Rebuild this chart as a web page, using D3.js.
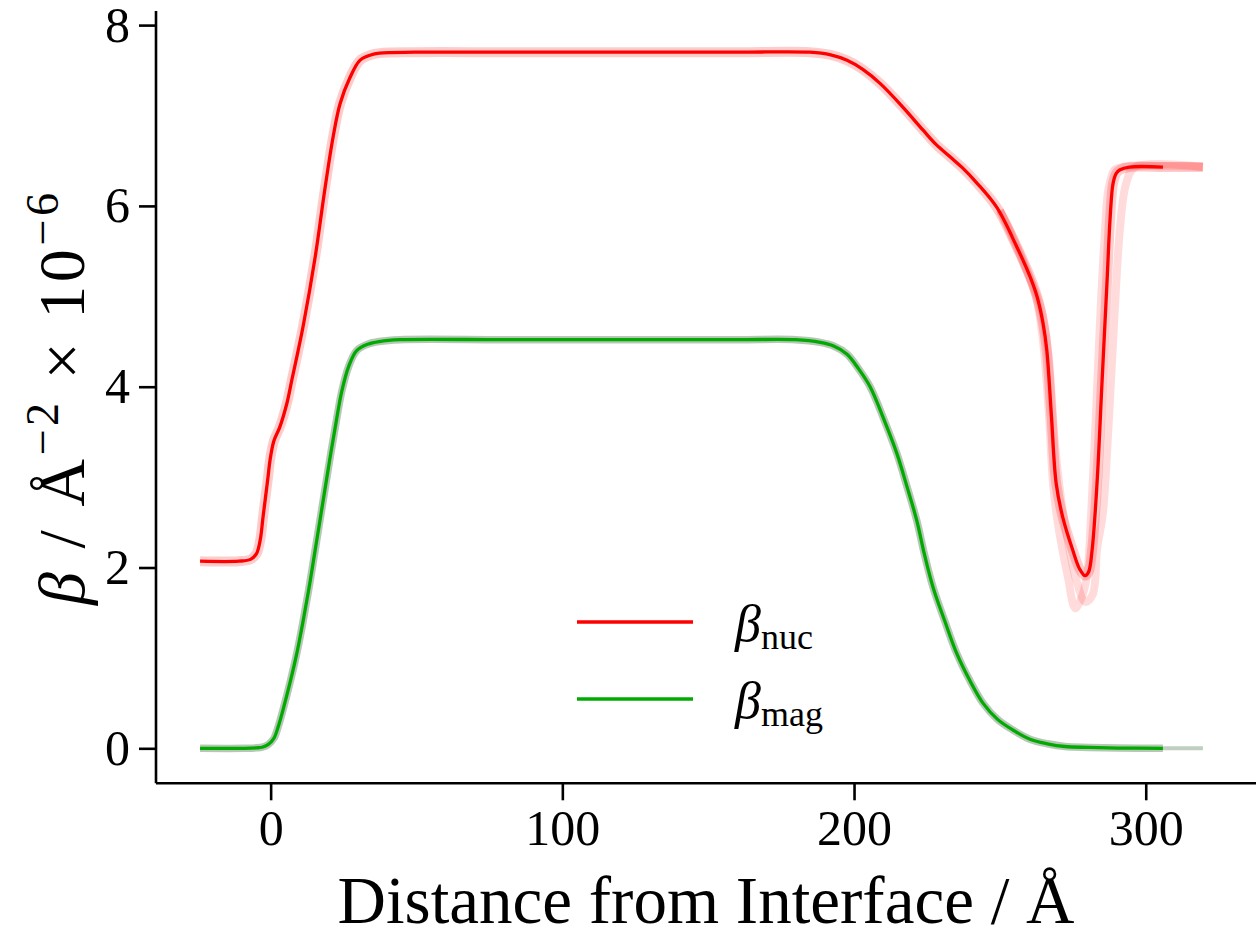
<!DOCTYPE html>
<html>
<head>
<meta charset="utf-8">
<script src="https://cdn.jsdelivr.net/npm/d3@7"></script>
<style>
html,body{margin:0;padding:0;background:#fff;}
svg{display:block;}
text{font-family:"Liberation Serif","DejaVu Serif",serif;fill:#000;}
</style>
</head>
<body>
<svg id="chart" width="1258" height="943"></svg>
<script>
// ---------------- data ----------------
const nucX = [-24.2,-10.9,-6.9,-4.9,-3.6,-2.6,-0.9,-0.2,1.1,3.1,5.6,7.3,9.3,11.2,15.2,18.7,21.4,23.8,27.2,30.6,34.3,37.3,49.3,
  80,120,160,184.9,192.0,197.6,203.0,209.1,216.8,223.6,228.1,233.0,237.2,242.2,249.0,255.9,260.3,262.8,264.8,266.1,267.7,269.3,271.6,
  275.0,277.4,279.2,280.4,281.6,283.3,285.0,286.7,287.8,288.8,289.9,291.2,294.4,305.9,319.6];
const nucY = [2.07,2.07,2.09,2.15,2.30,2.56,3.00,3.19,3.40,3.55,3.82,4.08,4.38,4.68,5.42,6.21,6.76,7.13,7.42,7.61,7.67,7.69,7.70,
  7.70,7.70,7.70,7.70,7.67,7.61,7.51,7.35,7.09,6.84,6.68,6.54,6.42,6.25,5.98,5.54,5.22,4.99,4.70,4.40,3.66,2.93,2.55,
  2.19,1.98,1.91,1.95,2.19,2.93,4.04,5.14,5.87,6.25,6.36,6.40,6.43,6.43,6.43];

const magX = [-24.2,-8.9,-4.9,-2.9,-0.9,1.1,2.6,4.2,6.6,9.1,11.2,13.5,15.7,18.0,20.2,22.4,24.4,26.7,29.5,33.3,37.3,44.3,
  80,120,160,179.9,188.4,193.0,197.6,201.5,205.5,210.1,214.7,218.1,221.5,224.1,227.1,231.2,235.2,239.7,244.2,249.2,254.6,260.3,266.3,
  272.3,280.4,290.4,305.9,319.6];
const magY = [0,0,0.005,0.012,0.04,0.11,0.24,0.42,0.72,1.07,1.42,1.84,2.28,2.74,3.18,3.60,3.95,4.22,4.40,4.47,4.50,4.52,
  4.52,4.52,4.52,4.52,4.49,4.45,4.36,4.20,4.00,3.65,3.26,2.90,2.52,2.15,1.78,1.40,1.05,0.75,0.50,0.32,0.20,0.10,0.05,
  0.02,0.01,0.003,0,0];

// faint posterior samples spreading around the dip
const nucTraceAX = [250.0,255.3,262.3,264.8,266.8,268.3,270.3,273.3,275.8,277.8,279.8,281.3,282.8,284.3,285.8,287.3,289.3,292.3,319.6];
const nucTraceAY = [5.95,5.60,5.00,4.50,3.70,2.90,2.40,1.90,1.55,1.65,1.90,2.60,3.60,4.70,5.60,6.20,6.40,6.43,6.43];
const nucTraceBX = [250.0,258.3,264.3,266.8,268.8,270.8,273.3,276.3,279.3,281.8,283.3,285.3,287.3,289.3,291.3,293.3,296.3,319.6];
const nucTraceBY = [5.95,5.35,4.85,4.30,3.40,2.80,2.30,1.85,1.62,1.70,2.20,2.60,3.60,4.80,5.80,6.25,6.43,6.43];

const mainEnd = 305.9;           // where the best-fit lines stop
const xTicks = [0,100,200,300];
const yTicks = [0,2,4,6,8];
const legendLabels = [["β","nuc"],["β","mag"]];
const xLabel = "Distance from Interface / Å";

// ---------------- drawing ----------------
const svg = d3.select("#chart");
const x = d3.scaleLinear().domain([-39.3, 337.8]).range([156, 1256]);
const y = d3.scaleLinear().domain([-0.387, 8.156]).range([783.3, 11]);

const pts = (X, Y, maxX) => X.map((v,i)=>[v,Y[i]]).filter(d => maxX===undefined || d[0] <= maxX);
const line = d3.line().x(d=>x(d[0])).y(d=>y(d[1])).curve(d3.curveCatmullRom.alpha(0.5));

const g = svg.append("g");

// uncertainty bands
g.append("path").attr("d", line(pts(magX, magY, mainEnd))).attr("fill","none")
  .attr("stroke","#2f5f2f").attr("stroke-opacity",0.35).attr("stroke-width",7.5);
g.append("path").attr("d", line(pts(magX, magY).filter(d=>d[0]>=mainEnd))).attr("fill","none")
  .attr("stroke","#2f5f2f").attr("stroke-opacity",0.3).attr("stroke-width",4);
g.append("path").attr("d", line(pts(nucX, nucY))).attr("fill","none")
  .attr("stroke","#ff0000").attr("stroke-opacity",0.2).attr("stroke-width",10);
[[nucTraceAX,nucTraceAY],[nucTraceBX,nucTraceBY]].forEach(([tx,ty])=>{
  g.append("path").attr("d", line(pts(tx,ty))).attr("fill","none")
    .attr("stroke","#ff0000").attr("stroke-opacity",0.14).attr("stroke-width",8);
});

// main lines
g.append("path").attr("d", line(pts(magX, magY, mainEnd))).attr("fill","none")
  .attr("stroke","#00aa00").attr("stroke-width",3.3);
g.append("path").attr("d", line(pts(nucX, nucY, mainEnd))).attr("fill","none")
  .attr("stroke","#ff0000").attr("stroke-width",3.3);

// axes
const xAxis = d3.axisBottom(x).tickValues(xTicks).tickSize(17).tickPadding(8).tickFormat(d3.format("d"));
const yAxis = d3.axisLeft(y).tickValues(yTicks).tickSize(17).tickPadding(9).tickFormat(d3.format("d"));
const gx = svg.append("g").attr("transform","translate(0,783.3)").call(xAxis);
const gy = svg.append("g").attr("transform","translate(156,0)").call(yAxis);
[gx,gy].forEach(a=>{
  a.select(".domain").attr("stroke","#000").attr("stroke-width",2.6);
  a.selectAll(".tick line").attr("stroke","#000").attr("stroke-width",2.6);
  a.selectAll(".tick text").attr("font-family","Liberation Serif, serif").attr("font-size",50).attr("fill","#000");
});
gx.select(".domain").attr("d","M156,0H1256");
gy.select(".domain").attr("d","M0,11V783.3");
gx.selectAll(".tick text").attr("dy","0.74em");

// x label
const xl = svg.append("text").attr("x",706).attr("y",923).attr("text-anchor","middle")
  .attr("font-size",66).text(xLabel);
{ const L = xl.node().getComputedTextLength(); xl.attr("font-size", 66*737/L); }

// y label (rotated)
{
  const fs = 66, sup = fs*0.7, up = fs*0.4;
  const t = svg.append("text").attr("class","ylab").attr("text-anchor","middle")
    .attr("transform","translate(84,399) rotate(-90)").attr("font-size",fs)
    .attr("textLength",412).attr("lengthAdjust","spacing");
  t.append("tspan").attr("font-style","italic").text("β");
  t.append("tspan").text(" / Å");
  t.append("tspan").attr("font-size",sup).attr("dy",-up).text("−2");
  t.append("tspan").attr("dy",up).text(" × 10");
  t.append("tspan").attr("font-size",sup).attr("dy",-up).text("−6");
}

// legend
const legY = [622, 699];
const legColors = ["#ff0000","#00aa00"];
legendLabels.forEach((lab,i)=>{
  svg.append("line").attr("x1",577).attr("x2",693).attr("y1",legY[i]).attr("y2",legY[i])
    .attr("stroke",legColors[i]).attr("stroke-width",3.3);
  const t = svg.append("text").attr("x",735).attr("y",legY[i]+19).attr("font-size",52);
  t.append("tspan").attr("font-style","italic").text(lab[0]);
  t.append("tspan").attr("font-size",36).attr("dy",8).text(lab[1]);
});
</script>
</body>
</html>
